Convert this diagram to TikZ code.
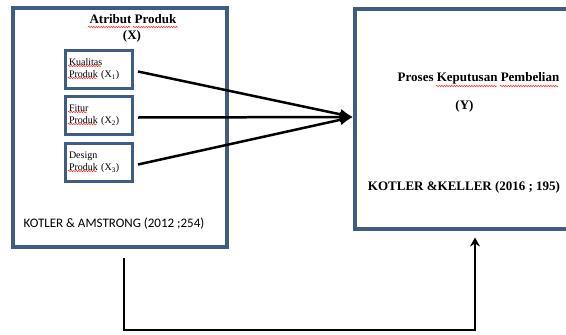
\documentclass[tikz,border=0pt]{standalone}
\usepackage{fontspec}
\setmainfont{Liberation Serif}
\newfontfamily\calibri{Carlito}
\usetikzlibrary{arrows.meta,decorations.pathmorphing}
\definecolor{boxblue}{RGB}{62,92,132}

\begin{document}
\begin{tikzpicture}[x=1pt,y=-1pt,
  frame/.style={draw=boxblue,line width=4pt,inner sep=0pt},
  subbox/.style={draw=boxblue,line width=3pt,minimum width=67pt,minimum height=38pt,
    text width=60pt,align=left,inner sep=3pt,font=\fontsize{10}{12}\selectfont},
  title/.style={font=\fontsize{13}{15}\selectfont\bfseries},
  link/.style={line width=2.5pt,-{Latex[length=13pt,width=11pt]}},
  flow/.style={line width=2pt,-{Stealth[length=9pt,width=10pt,inset=3pt]}},
  spell/.style={red,line width=0.5pt,decorate,decoration={snake,amplitude=0.6pt,segment length=2.5pt}}]
  \useasboundingbox (0,0) rectangle (566,335);
  % \draw[thin,gray!40] (0,0) grid[step=50] (566,335);
  \node[frame,minimum width=214pt,minimum height=239pt] (xb) at (120,127.5) {};
  \node[frame,minimum width=213pt,minimum height=220pt] (yb) at (461.5,119) {};

  \node[title] (xt) at (133,19) {Atribut Produk};
  \node[title] (xl) at (132,36) {(X)};
  \node[subbox] (x1) at (99,69.5) {Kualitas\\Produk (X\textsubscript{1})};
  \node[subbox] (x2) at (99,115.5) {Fitur\\Produk (X\textsubscript{2})};
  \node[subbox] (x3) at (99,162.5) {Design\\Produk (X\textsubscript{3})};
  \node[font=\calibri\fontsize{13}{15}\selectfont] (xs) at (114,224) {KOTLER \& AMSTRONG (2012 ;254)};

  \node[title] (yt) at (478.5,78) {Proses Keputusan Pembelian};
  \node[title] (yl) at (464.5,106) {(Y)};
  \node[title] (ys) at (464,187) {KOTLER \&KELLER (2016 ; 195)};

  \coordinate (tip) at ([yshift=2pt]yb.west);
  \foreach \n in {x1,x2,x3}
    \draw[link] ([xshift=4pt,yshift=-2pt]\n.east) -- (tip);
  \draw[flow] ([xshift=4pt,yshift=-9pt]xb.south) -- ++(0,72) -| ([xshift=13.5pt,yshift=-6.5pt]yb.south);

  % spelling marks
  \draw[spell] (88,27) -- (130,27);
  \draw[spell] (133,27) -- (178,27);
  \draw[spell] (436,86) -- (497,86);
  \draw[spell] (500,86) -- (558,86);
  \draw[spell] (68,66) -- (101,66);
  \draw[spell] (68,78) -- (97,78);
  \draw[spell] (68,112) -- (87,112);
  \draw[spell] (68,124) -- (97,124);
  \draw[spell] (68,171) -- (97,171);
\end{tikzpicture}
\end{document}
